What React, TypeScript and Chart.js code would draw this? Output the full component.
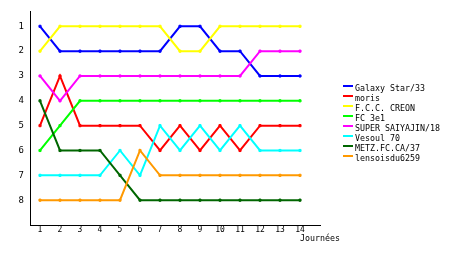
import React, { useEffect, useRef } from "react";
import { Chart, registerables } from "chart.js";

Chart.register(...registerables);

const days = [1, 2, 3, 4, 5, 6, 7, 8, 9, 10, 11, 12, 13, 14];
const rankTicks = [1, 2, 3, 4, 5, 6, 7, 8];
const xTitle = "Journées";

const teamNames = [
  "Galaxy Star/33",
  "moris",
  "F.C.C. CREON",
  "FC 3e1",
  "SUPER SAIYAJIN/18",
  "Vesoul 70",
  "METZ.FC.CA/37",
  "lensoisdu6259",
];

const galaxyStar = [1, 2, 2, 2, 2, 2, 2, 1, 1, 2, 2, 3, 3, 3];
const moris = [5, 3, 5, 5, 5, 5, 6, 5, 6, 5, 6, 5, 5, 5];
const fccCreon = [2, 1, 1, 1, 1, 1, 1, 2, 2, 1, 1, 1, 1, 1];
const fc3e1 = [6, 5, 4, 4, 4, 4, 4, 4, 4, 4, 4, 4, 4, 4];
const superSaiyajin = [3, 4, 3, 3, 3, 3, 3, 3, 3, 3, 3, 2, 2, 2];
const vesoul70 = [7, 7, 7, 7, 6, 7, 5, 6, 5, 6, 5, 6, 6, 6];
const metzFc = [4, 6, 6, 6, 7, 8, 8, 8, 8, 8, 8, 8, 8, 8];
const lensois = [8, 8, 8, 8, 8, 6, 7, 7, 7, 7, 7, 7, 7, 7];

const seriesValues = [galaxyStar, moris, fccCreon, fc3e1, superSaiyajin, vesoul70, metzFc, lensois];
const seriesColors = ["#0000ff", "#ff0000", "#ffff00", "#00ff00", "#ff00ff", "#00ffff", "#006600", "#ff9900"];

const FONT = "'DejaVu Sans Mono', monospace";

export default function App() {
  const ref = useRef<HTMLCanvasElement | null>(null);

  useEffect(() => {
    document.body.style.margin = "0";
    const canvas = ref.current;
    if (!canvas) return;

    const overlay = {
      id: "overlay",
      afterDraw(chart: any) {
        const ctx = chart.ctx;
        ctx.save();
        ctx.font = `8.3px ${FONT}`;
        ctx.textBaseline = "middle";
        ctx.textAlign = "left";
        teamNames.forEach((name, i) => {
          ctx.fillStyle = seriesColors[i];
          ctx.fillRect(343, 85 + 10 * i, 10, 2);
          ctx.fillStyle = "#000";
          ctx.fillText(name, 355, 89 + 10 * i);
        });
        ctx.fillStyle = "#000";
        ctx.fillText(xTitle, 300, 239);
        ctx.restore();
      },
    };

    const chart = new Chart(canvas, {
      type: "line",
      data: {
        datasets: seriesValues.map((vals, i) => ({
          label: teamNames[i],
          data: vals.map((v, j) => ({ x: days[j], y: v })),
          borderColor: seriesColors[i],
          backgroundColor: seriesColors[i],
          borderWidth: 2,
          pointStyle: "rect",
          pointRadius: 1.5,
          pointBorderWidth: 1,
          tension: 0,
          fill: false,
          order: -i,
        })),
      },
      options: {
        animation: false,
        responsive: false,
        maintainAspectRatio: false,
        layout: { padding: { left: 0, top: 10, right: 140, bottom: 0 } },
        plugins: {
          legend: { display: false },
          tooltip: { enabled: false },
        },
        scales: {
          x: {
            type: "linear",
            min: 0.5,
            max: 15,
            grid: { display: false, drawTicks: false },
            border: { display: true, color: "#000", width: 1 },
            afterBuildTicks: (scale: any) => {
              scale.ticks = days.map((d) => ({ value: d }));
            },
            afterFit: (scale: any) => {
              scale.height = 30;
            },
            ticks: {
              autoSkip: false,
              maxRotation: 0,
              padding: 0,
              color: "#000",
              font: { family: FONT, size: 8 },
            },
          },
          y: {
            type: "linear",
            reverse: true,
            min: 0.4,
            max: 9,
            grid: { display: false, drawTicks: false },
            border: { display: true, color: "#000", width: 1 },
            afterBuildTicks: (scale: any) => {
              scale.ticks = rankTicks.map((r) => ({ value: r }));
            },
            afterFit: (scale: any) => {
              scale.width = 30;
            },
            ticks: {
              autoSkip: false,
              padding: 6,
              color: "#000",
              font: { family: FONT, size: 9 },
            },
          },
        },
      },
      plugins: [overlay],
    });

    return () => chart.destroy();
  }, []);

  return (
    <div style={{ width: 460, height: 255, background: "#fff" }}>
      <canvas ref={ref} width={460} height={255} style={{ display: "block" }} />
    </div>
  );
}
